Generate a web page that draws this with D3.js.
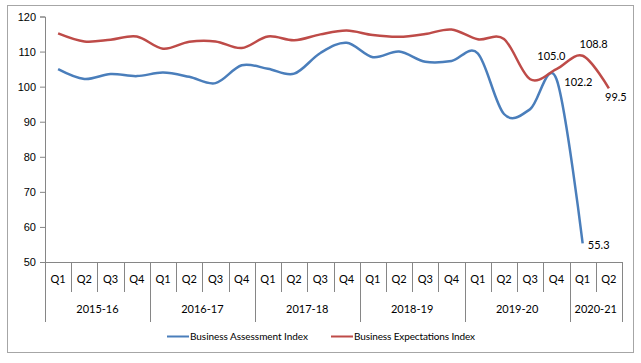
<!DOCTYPE html>
<html><head><meta charset="utf-8">
<script src="https://cdn.jsdelivr.net/npm/d3@7"></script>
<style>body{margin:0;background:#fff}svg{display:block}</style>
</head><body>
<script>
const quarters = ["Q1","Q2","Q3","Q4","Q1","Q2","Q3","Q4","Q1","Q2","Q3","Q4","Q1","Q2","Q3","Q4","Q1","Q2","Q3","Q4","Q1","Q2"];
const years = [["2015-16",4],["2016-17",4],["2017-18",4],["2018-19",4],["2019-20",4],["2020-21",2]];
const assessment = [105.0,102.2,103.6,103.0,104.0,102.8,101.0,106.1,105.1,103.7,109.6,112.5,108.4,110.0,107.1,107.3,109.5,92.2,93.6,102.2,55.3,null];
const expectations = [115.2,112.9,113.4,114.3,110.8,112.8,112.9,111.0,114.3,113.2,114.9,116.0,114.7,114.2,115.0,116.3,113.5,113.6,102.1,105.0,108.8,99.5];
const yTicks = [50,60,70,80,90,100,110,120];
const labelsA = {19:"102.2",20:"55.3"};
const labelsE = {19:"105.0",20:"108.8",21:"99.5"};

const W=641,H=363;
const svg=d3.select("body").append("svg").attr("width",W).attr("height",H)
  .style("font-family","Lato, 'Open Sans', sans-serif");
svg.append("rect").attr("x",7.5).attr("y",5.5).attr("width",626).attr("height",347)
  .attr("fill","#fff").attr("stroke","#a6a6a6").attr("stroke-width",1);

const L=45,R=622,T=16.5,B=262;
const x=d3.scaleBand().domain(d3.range(quarters.length)).range([L,R]);
const y=d3.scaleLinear().domain([50,120]).range([B,T]);
const cx=i=>x(i)+x.bandwidth()/2;

// y axis
const ya=svg.append("g").attr("transform",`translate(${L},0)`)
  .call(d3.axisLeft(y).tickValues(yTicks).tickSize(5).tickPadding(4));
ya.select(".domain").attr("stroke","#868686");
ya.selectAll(".tick line").attr("stroke","#868686");
ya.selectAll("text").attr("font-size",11).attr("fill","#000");

// x axis
const g=svg.append("g");
g.append("line").attr("x1",L).attr("x2",R).attr("y1",B+0.5).attr("y2",B+0.5).attr("stroke","#868686");
let yb=new Set([0]);let acc=0;years.forEach(d=>{acc+=d[1];yb.add(acc);});
for(let i=0;i<=quarters.length;i++){
  const xx=Math.round(i<quarters.length?x(i):R)+0.5;
  g.append("line").attr("x1",xx).attr("x2",xx).attr("y1",B).attr("y2",yb.has(i)?322:292).attr("stroke","#868686");
}
g.selectAll(".q").data(quarters).join("text").attr("x",(d,i)=>cx(i)).attr("y",283)
  .attr("text-anchor","middle").attr("font-size",11).text(d=>d);
acc=0;
years.forEach(d=>{
  const mid=(x(acc)+(acc+d[1]<quarters.length?x(acc+d[1]):R))/2;
  g.append("text").attr("x",mid).attr("y",313).attr("text-anchor","middle").attr("font-size",11).text(d[0]);
  acc+=d[1];
});

// lines
const line=d3.line().defined(d=>d!=null).x((d,i)=>cx(i)).y(d=>y(d)).curve(d3.curveCatmullRom.alpha(0));
svg.append("path").attr("d",line(assessment)).attr("fill","none").attr("stroke","#4a7ebb").attr("stroke-width",2.5);
svg.append("path").attr("d",line(expectations)).attr("fill","none").attr("stroke","#be4b48").attr("stroke-width",2.5);

// labels
const lab=(i,txt,dx,dy)=>svg.append("text").attr("x",cx(i)+dx).attr("y",dy).attr("text-anchor","middle").attr("font-size",11).text(txt);
lab(19,labelsE[19],-5,60);
lab(20,labelsE[20],11,48);
lab(19,labelsA[19],22,86);
lab(21,labelsE[21],7,101);
lab(20,labelsA[20],16,249);

// legend
const lg=svg.append("g");
lg.append("line").attr("x1",167).attr("x2",189).attr("y1",336.5).attr("y2",336.5).attr("stroke","#4a7ebb").attr("stroke-width",2);
lg.append("text").attr("x",190).attr("y",340).attr("font-size",10).attr("textLength",118).text("Business Assessment Index");
lg.append("line").attr("x1",331).attr("x2",353).attr("y1",336.5).attr("y2",336.5).attr("stroke","#be4b48").attr("stroke-width",2);
lg.append("text").attr("x",354).attr("y",340).attr("font-size",10).attr("textLength",121).text("Business Expectations Index");
</script>
</body></html>
